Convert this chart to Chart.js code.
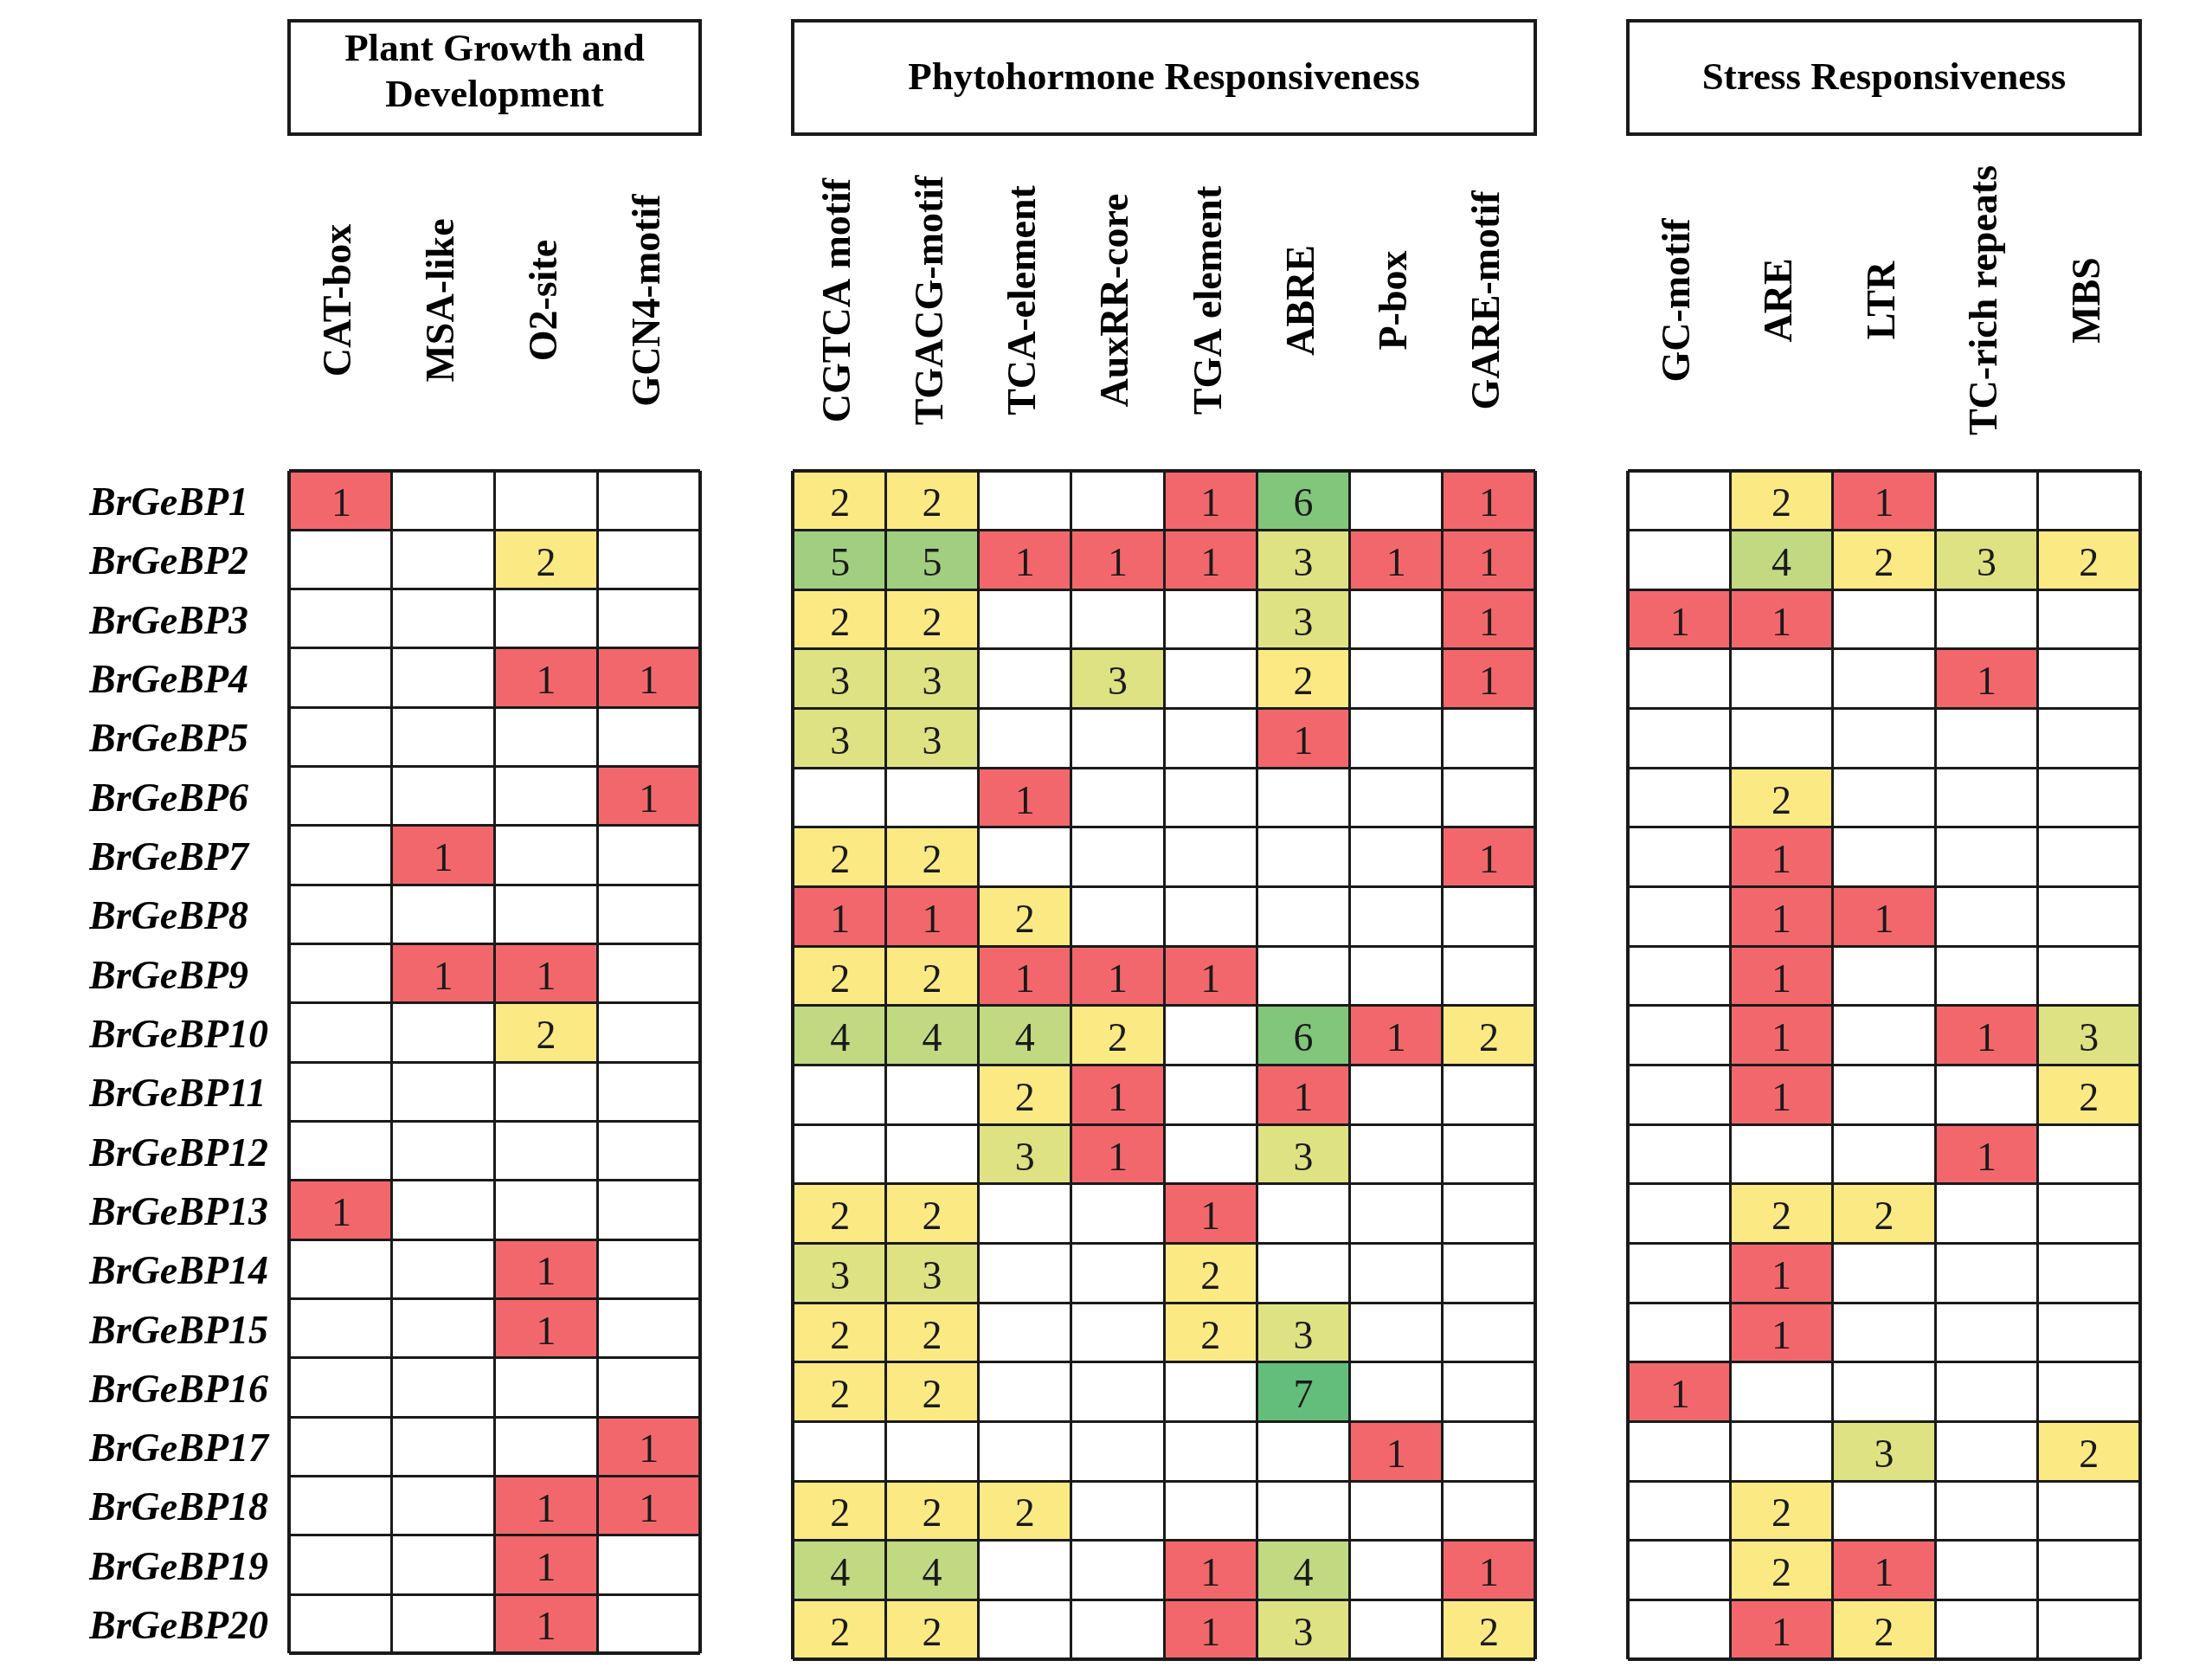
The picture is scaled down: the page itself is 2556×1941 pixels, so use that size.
<!DOCTYPE html>
<html>
<head>
<meta charset="utf-8">
<script src="https://cdn.jsdelivr.net/npm/chart.js@4.4.1/dist/chart.umd.min.js"></script>
<style>
  html, body { margin: 0; padding: 0; background: #fff; }
  body { width: 2556px; height: 1941px; position: relative; overflow: hidden; }
  .layer { position: absolute; left: 0; top: 0; width: 2556px; height: 1941px; }
</style>
</head>
<body>
<div class="layer"><canvas id="growthChart"></canvas></div>
<div class="layer"><canvas id="hormoneChart"></canvas></div>
<div class="layer"><canvas id="stressChart"></canvas></div>
<script>
// Gene names (rows)
const genes = ['BrGeBP1','BrGeBP2','BrGeBP3','BrGeBP4','BrGeBP5','BrGeBP6','BrGeBP7','BrGeBP8','BrGeBP9','BrGeBP10',
               'BrGeBP11','BrGeBP12','BrGeBP13','BrGeBP14','BrGeBP15','BrGeBP16','BrGeBP17','BrGeBP18','BrGeBP19','BrGeBP20'];

// Plant growth and development elements (0 = none)
const growthCols = ['CAT-box','MSA-like','O2-site','GCN4-motif'];
const growthCounts = [
    [1,0,0,0],[0,0,2,0],[0,0,0,0],[0,0,1,1],[0,0,0,0],
    [0,0,0,1],[0,1,0,0],[0,0,0,0],[0,1,1,0],[0,0,2,0],
    [0,0,0,0],[0,0,0,0],[1,0,0,0],[0,0,1,0],[0,0,1,0],
    [0,0,0,0],[0,0,0,1],[0,0,1,1],[0,0,1,0],[0,0,1,0]
];

// Phytohormone responsive elements
const hormoneCols = ['CGTCA motif','TGACG-motif','TCA-element','AuxRR-core','TGA element','ABRE','P-box','GARE-motif'];
const hormoneCounts = [
    [2,2,0,0,1,6,0,1],[5,5,1,1,1,3,1,1],[2,2,0,0,0,3,0,1],[3,3,0,3,0,2,0,1],[3,3,0,0,0,1,0,0],
    [0,0,1,0,0,0,0,0],[2,2,0,0,0,0,0,1],[1,1,2,0,0,0,0,0],[2,2,1,1,1,0,0,0],[4,4,4,2,0,6,1,2],
    [0,0,2,1,0,1,0,0],[0,0,3,1,0,3,0,0],[2,2,0,0,1,0,0,0],[3,3,0,0,2,0,0,0],[2,2,0,0,2,3,0,0],
    [2,2,0,0,0,7,0,0],[0,0,0,0,0,0,1,0],[2,2,2,0,0,0,0,0],[4,4,0,0,1,4,0,1],[2,2,0,0,1,3,0,2]
];

// Stress responsive elements
const stressCols = ['GC-motif','ARE','LTR','TC-rich repeats','MBS'];
const stressCounts = [
    [0,2,1,0,0],[0,4,2,3,2],[1,1,0,0,0],[0,0,0,1,0],[0,0,0,0,0],
    [0,2,0,0,0],[0,1,0,0,0],[0,1,1,0,0],[0,1,0,0,0],[0,1,0,1,3],
    [0,1,0,0,2],[0,0,0,1,0],[0,2,2,0,0],[0,1,0,0,0],[0,1,0,0,0],
    [1,0,0,0,0],[0,0,3,0,2],[0,2,0,0,0],[0,2,1,0,0],[0,1,2,0,0]
];

// Red - yellow - green colour scale per count
const cellColors = {1:'#F2676C', 2:'#FBE983', 3:'#DEE283', 4:'#C1D981', 5:'#A1CF7F', 6:'#82C67C', 7:'#63BE7B'};

const serif = '"Liberation Serif", "Times New Roman", serif';
const gridTop = 544, gridBottom = 1917;

// Draws header box and rotated column names
const tableDecor = {
    id: 'tableDecor',
    afterDraw(chart, args, opts) {
        const {ctx, chartArea, scales} = chart;
        ctx.save();
        ctx.strokeStyle = '#1a1a1a';
        ctx.lineWidth = 4;
        ctx.strokeRect(chartArea.left, 24, chartArea.right - chartArea.left, 131);
        ctx.fillStyle = '#000';
        ctx.textAlign = 'center';
        ctx.textBaseline = 'middle';
        ctx.font = 'bold 45px ' + serif;
        const cx = (chartArea.left + chartArea.right) / 2;
        if (opts.title.length === 2) {
            ctx.fillText(opts.title[0], cx, 58);
            ctx.fillText(opts.title[1], cx, 111);
        } else {
            ctx.fillText(opts.title[0], cx, 91);
        }
        ctx.font = 'bold 46px ' + serif;
        opts.cols.forEach((c, j) => {
            const x = scales.x.getPixelForValue(j + 0.5);
            ctx.save();
            ctx.translate(x, 347);
            ctx.rotate(-Math.PI / 2);
            ctx.fillText(c, 0, 0);
            ctx.restore();
        });
        ctx.restore();
    }
};

// Count numbers inside coloured cells
const cellText = {
    id: 'cellText',
    afterDatasetsDraw(chart) {
        const ctx = chart.ctx;
        ctx.save();
        ctx.font = '46px ' + serif;
        ctx.fillStyle = '#1a1a1a';
        ctx.textAlign = 'center';
        ctx.textBaseline = 'middle';
        chart.data.datasets.forEach((ds, di) => {
            chart.getDatasetMeta(di).data.forEach((bar, i) => {
                const v = ds.counts[i];
                if (!v) return;
                ctx.fillText(String(v), (bar.x + bar.base) / 2, bar.y + 6);
            });
        });
        ctx.restore();
    }
};

function makeTable(canvasId, title, cols, counts, left, right, showGenes) {
    const n = cols.length;
    const datasets = cols.map((c, j) => ({
        label: c,
        data: counts.map(r => r[j] ? [j, j + 1] : null),
        counts: counts.map(r => r[j]),
        backgroundColor: counts.map(r => cellColors[r[j]] || 'rgba(0,0,0,0)'),
        grouped: false,
        barPercentage: 1,
        categoryPercentage: 1,
        borderWidth: 0
    }));
    new Chart(document.getElementById(canvasId), {
        type: 'bar',
        data: { labels: genes, datasets: datasets },
        plugins: [cellText, tableDecor],
        options: {
            indexAxis: 'y',
            responsive: true,
            maintainAspectRatio: false,
            devicePixelRatio: 1,
            animation: false,
            layout: {
                padding: { left: showGenes ? 103 : left, right: 2556 - right, top: gridTop, bottom: 1941 - gridBottom }
            },
            plugins: {
                legend: { display: false },
                tooltip: { enabled: false },
                tableDecor: { title: title, cols: cols }
            },
            scales: {
                x: {
                    type: 'linear',
                    position: 'bottom',
                    min: 0,
                    max: n,
                    ticks: { display: false, stepSize: 1 },
                    grid: {
                        z: 1,
                        color: '#1a1a1a',
                        drawTicks: false,
                        lineWidth: c => (c.tick && (c.tick.value === 0 || c.tick.value === n)) ? 4 : 3
                    },
                    border: { display: false },
                    afterFit: s => { s.height = 0; }
                },
                y: {
                    type: 'category',
                    offset: true,
                    ticks: {
                        display: showGenes,
                        crossAlign: 'far',
                        labelOffset: 5,
                        color: '#000',
                        font: { family: serif, size: 46, style: 'italic', weight: 'bold' }
                    },
                    grid: {
                        z: 1,
                        offset: true,
                        color: '#1a1a1a',
                        drawTicks: false,
                        lineWidth: c => (c.index === undefined || c.index === 0) ? 4 : 3
                    },
                    border: { display: false },
                    afterFit: s => { s.width = showGenes ? left - 103 : 0; }
                }
            }
        }
    });
}

makeTable('growthChart', ['Plant Growth and', 'Development'], growthCols, growthCounts, 334, 809, true);
makeTable('hormoneChart', ['Phytohormone Responsiveness'], hormoneCols, hormoneCounts, 916, 1774, false);
makeTable('stressChart', ['Stress Responsiveness'], stressCols, stressCounts, 1881, 2473, false);
</script>
</body>
</html>
